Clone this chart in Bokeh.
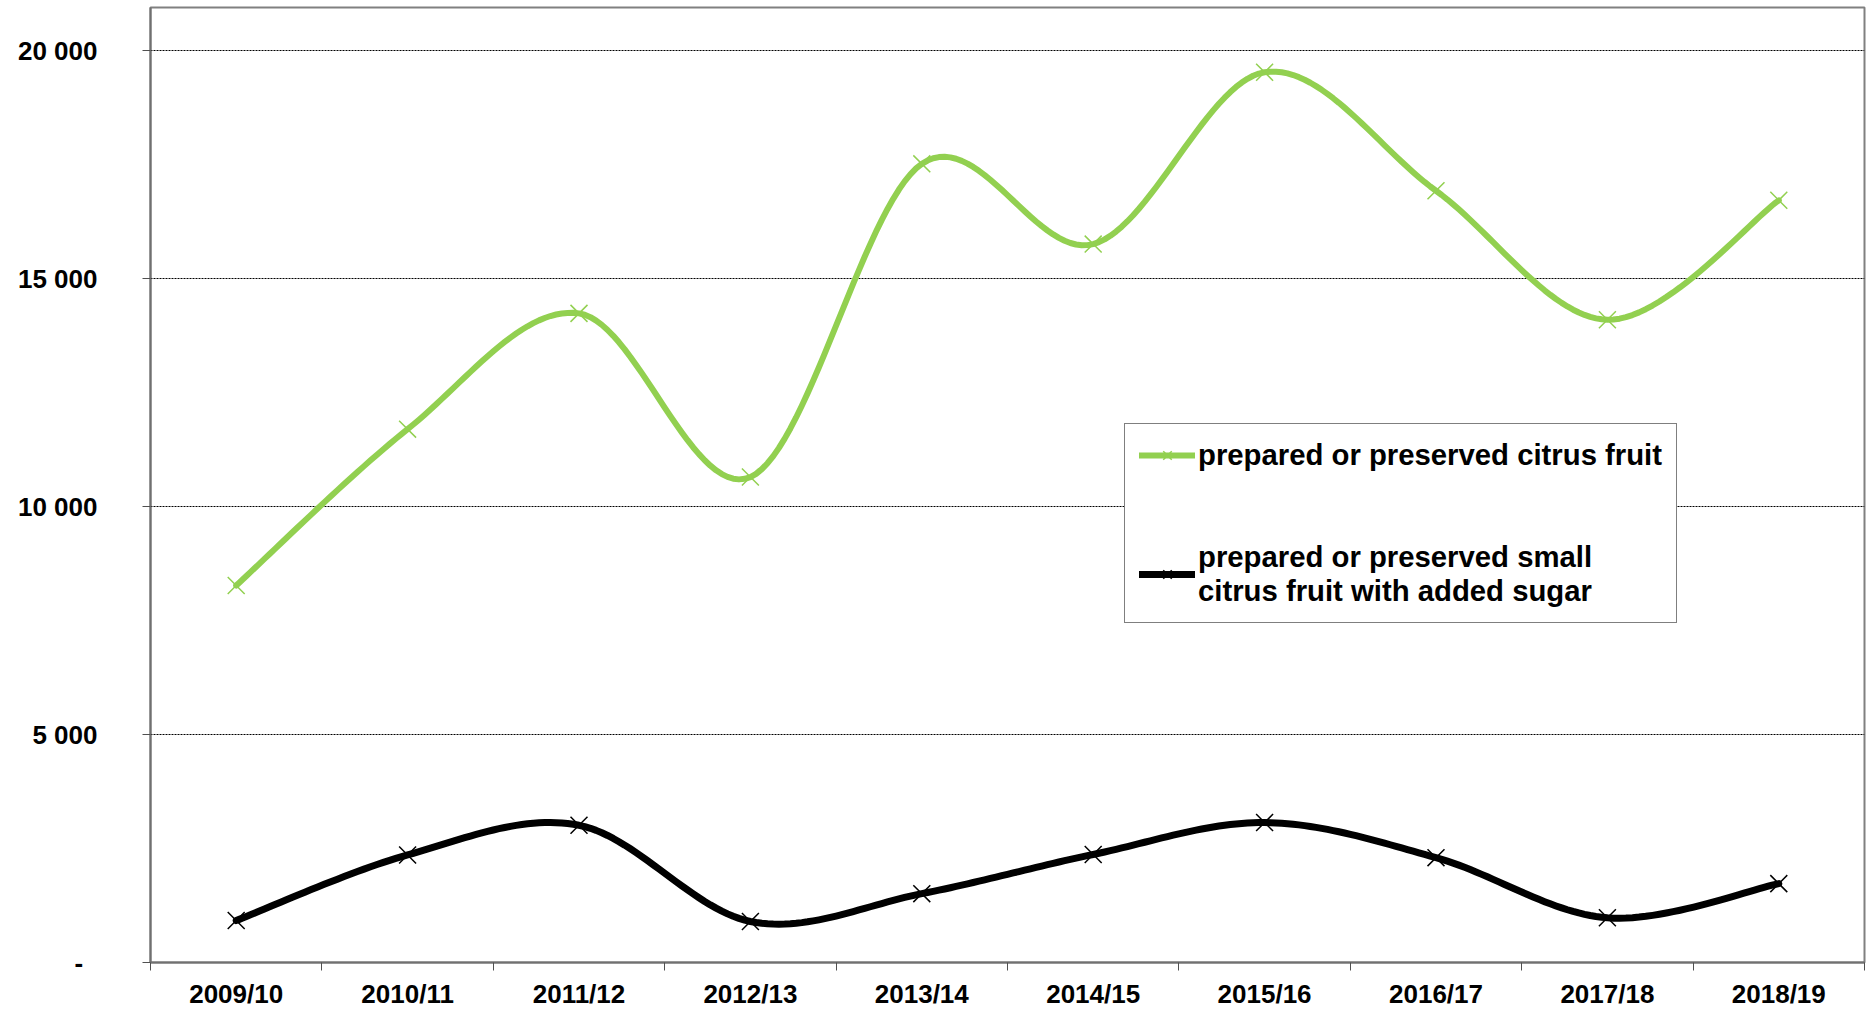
import numpy as np
from bokeh.plotting import figure
from bokeh.models import Range1d, FixedTicker, Legend, LegendItem
from bokeh.embed import file_html
from bokeh.resources import INLINE

# ---- data ----
seasons = ["2009/10", "2010/11", "2011/12", "2012/13", "2013/14",
           "2014/15", "2015/16", "2016/17", "2017/18", "2018/19"]
citrus = [8270, 11700, 14240, 10650, 17520, 15760, 19530, 16930, 14100, 16720]
small_citrus_sugar = [920, 2360, 3010, 900, 1510, 2370, 3070, 2300, 980, 1730]
y_ticks = [0, 5000, 10000, 15000, 20000]
y_tick_labels = ["-\u00a0\u00a0", "5 000", "10 000", "15 000", "20 000"]
legend_labels = ["prepared or preserved citrus fruit",
                 "prepared or preserved small\ncitrus fruit with added sugar"]

GREEN = "#92D050"
FONT = "Liberation Sans"


def smooth(xs, ys, n=30):
    """Bezier smoothing through the points (like a spreadsheet 'smoothed line')."""
    P = np.column_stack([xs, ys]).astype(float)
    m = len(P)
    out = []
    for i in range(m - 1):
        p0 = P[max(i - 1, 0)]
        p1 = P[i]
        p2 = P[i + 1]
        p3 = P[min(i + 2, m - 1)]
        c1 = p1 + (p2 - p0) / 6.0
        c2 = p2 - (p3 - p1) / 6.0
        t = np.linspace(0, 1, n, endpoint=(i == m - 2))[:, None]
        seg = ((1 - t) ** 3) * p1 + 3 * ((1 - t) ** 2) * t * c1 + 3 * (1 - t) * t ** 2 * c2 + t ** 3 * p2
        out.append(seg)
    out = np.vstack(out)
    return out[:, 0], out[:, 1]


xpos = [i + 0.5 for i in range(len(seasons))]

p = figure(width=1866, height=1011, output_backend="svg", toolbar_location=None,
           x_range=Range1d(0, len(seasons)), y_range=Range1d(0, 20950),
           min_border_left=150, min_border_right=2, min_border_top=7, min_border_bottom=49)

p.background_fill_color = "white"
p.border_fill_color = "white"
p.outline_line_color = "#808080"
p.outline_line_width = 2

# grid
p.xgrid.visible = False
p.ygrid.ticker = FixedTicker(ticks=y_ticks)
p.ygrid.grid_line_color = "black"
p.ygrid.grid_line_dash = "2 1"
p.ygrid.grid_line_width = 1

# x axis: labels at category centres, tick marks at category boundaries
xa = p.xaxis[0]
xa.ticker = FixedTicker(ticks=xpos, minor_ticks=list(range(len(seasons) + 1)))
xa.major_label_overrides = {x: s for x, s in zip(xpos, seasons)}
xa.major_tick_in = 0
xa.major_tick_out = 0
xa.minor_tick_in = 0
xa.minor_tick_out = 8
xa.minor_tick_line_color = "#505050"
xa.minor_tick_line_width = 1
xa.axis_line_color = "#707070"
xa.axis_line_width = 2
xa.major_label_text_font = FONT
xa.major_label_text_font_style = "bold"
xa.major_label_text_font_size = "26px"
xa.major_label_text_color = "black"
xa.major_label_standoff = 8

# y axis
ya = p.yaxis[0]
ya.ticker = FixedTicker(ticks=y_ticks)
ya.major_label_overrides = {v: s for v, s in zip(y_ticks, y_tick_labels)}
ya.major_tick_in = 0
ya.major_tick_out = 8
ya.major_tick_line_color = "#505050"
ya.minor_tick_line_color = None
ya.axis_line_color = "#707070"
ya.axis_line_width = 2
ya.major_label_text_font = FONT
ya.major_label_text_font_style = "bold"
ya.major_label_text_font_size = "26px"
ya.major_label_text_color = "black"
ya.major_label_standoff = 45

# series
gx, gy = smooth(xpos, citrus)
bx, by = smooth(xpos, small_citrus_sugar)

l1 = p.line(gx, gy, line_color=GREEN, line_width=6, line_cap="round", line_join="round")
s1 = p.scatter(xpos, citrus, marker="x", size=24, line_color=GREEN, line_width=1.5)
l2 = p.line(bx, by, line_color="black", line_width=7, line_cap="round", line_join="round")
s2 = p.scatter(xpos, small_citrus_sugar, marker="x", size=24, line_color="black", line_width=1.5)

legend = Legend(items=[LegendItem(label=legend_labels[0], renderers=[l1, s1]),
                       LegendItem(label=legend_labels[1], renderers=[l2, s2])],
                location=(974, 339))
legend.label_text_font = FONT
legend.label_text_font_style = "bold"
legend.label_text_font_size = "29.3px"
legend.label_text_line_height = 1.15
legend.label_text_color = "black"
legend.glyph_width = 56
legend.glyph_height = 30
legend.label_standoff = 3
legend.spacing = 68
legend.padding = 14
legend.margin = 0
legend.border_line_color = "black"
legend.border_line_width = 1
legend.background_fill_color = "white"
legend.background_fill_alpha = 1
p.add_layout(legend)

open("out.html", "w").write(file_html(p, INLINE))
